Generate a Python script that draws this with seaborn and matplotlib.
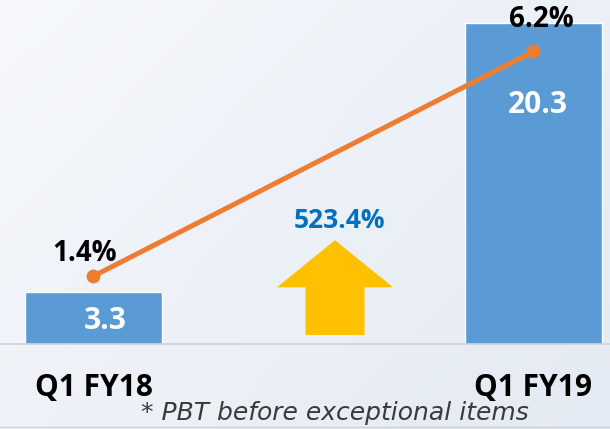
import numpy as np
import matplotlib
matplotlib.use("Agg")
import matplotlib.pyplot as plt
from matplotlib.lines import Line2D
from matplotlib.patches import FancyArrow
import seaborn as sns

quarters = ["Q1 FY18", "Q1 FY19"]
pbt = [3.3, 20.3]
margin = [1.4, 6.2]
growth_label = "523.4%"
footnote = "* PBT before exceptional items"

BAR = "#5B9BD5"
LINE = "#ED7D31"
ARROW = "#FFC000"
BLUE_TXT = "#0070C0"

sns.set_theme(style="white")
plt.rcParams["font.family"] = ["Open Sans", "DejaVu Sans"]

fig = plt.figure(figsize=(6.1, 4.29), dpi=100)

# soft gradient background
bg = fig.add_axes([0, 0, 1, 1], zorder=-10)
gx = np.linspace(0, 1, 200)
gy = np.linspace(0, 1, 150)
X, Y = np.meshgrid(gx, gy)
t = np.clip(0.6 * X + 0.4 * Y, 0, 1)
c0 = np.array([246, 248, 252]) / 255
c1 = np.array([228, 234, 243]) / 255
img = c0[None, None, :] * (1 - t[..., None]) + c1[None, None, :] * t[..., None]
bg.imshow(img, aspect="auto", extent=[0, 1, 0, 1])
bg.set_axis_off()

ax = fig.add_axes([0, 1 - 344 / 429, 1, 344 / 429])
ax.patch.set_alpha(0)
sns.barplot(x=quarters, y=pbt, color=BAR, width=0.31, saturation=1, ax=ax)
ax.set_xlim(-0.2125, 1.174)
ax.set_ylim(0, 21.77)
ax.set_yticks([])
ax.set_ylabel("")
ax.set_xlabel("")
for s in ["top", "left", "right"]:
    ax.spines[s].set_visible(False)
ax.spines["bottom"].set_color("#CDD2D9")
ax.spines["bottom"].set_linewidth(1.2)
ax.tick_params(axis="x", length=0, pad=21)
for lab in ax.get_xticklabels():
    lab.set_fontsize(21.5)
    lab.set_fontweight("bold")
    lab.set_color("black")

# value labels in bars
ax.annotate(f"{pbt[0]}", xy=(0, pbt[0]), xytext=(12, -29), textcoords="offset pixels",
            ha="center", va="center", color="white", fontsize=21.5, fontweight="bold")
ax.annotate(f"{pbt[1]}", xy=(1, pbt[1]), xytext=(4, -82), textcoords="offset pixels",
            ha="center", va="center", color="white", fontsize=21.5, fontweight="bold")

# growth arrow
arr = FancyArrow(0.549, 0.57, 0, 6.0, width=0.134, head_width=0.264, head_length=2.98,
                 length_includes_head=True, color=ARROW, lw=0)
ax.add_patch(arr)
ax.text(0.56, 7.8, growth_label, ha="center", va="center", color=BLUE_TXT,
        fontsize=19, fontweight="bold")

# margin line
ax2 = ax.twinx()
ax2.patch.set_alpha(0)
sns.lineplot(x=np.arange(len(margin)), y=margin, ax=ax2, color=LINE, linewidth=3.6,
             marker="o", markersize=10, markeredgewidth=0)
ax2.set_ylim(-0.05, 7.3)
ax2.set_yticks([])
for s in ["top", "left", "right", "bottom"]:
    ax2.spines[s].set_visible(False)
ax2.annotate(f"{margin[0]}%", xy=(0, margin[0]), xytext=(-9, 23), textcoords="offset pixels",
             ha="center", va="center", color="black", fontsize=20, fontweight="bold")
ax2.annotate(f"{margin[1]}%", xy=(1, margin[1]), xytext=(8, 32), textcoords="offset pixels",
             ha="center", va="center", color="black", fontsize=20, fontweight="bold")

fig.text(335 / 610, 1 - 413 / 429, footnote, ha="center", va="center", fontsize=18,
         style="italic", color="#3A3A3A", family=["DejaVu Sans"])
fig.add_artist(Line2D([0, 1], [1 - 427 / 429] * 2, color="#CDD2D9", lw=1))

fig.savefig("out.png", dpi=100)
